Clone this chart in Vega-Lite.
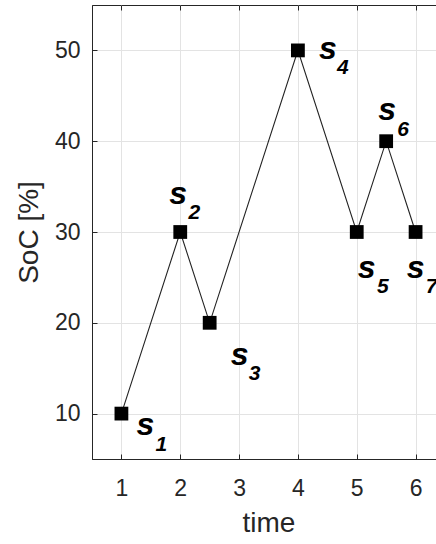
{
  "$schema": "https://vega.github.io/schema/vega-lite/v6.json",
  "autosize": {"type": "none"},
  "padding": {"left": 92, "top": 5, "right": 0, "bottom": 85},
  "width": 353,
  "height": 454,
  "background": "white",
  "config": {
    "view": {"stroke": "#262626", "strokeWidth": 1},
    "font": "Liberation Sans",
    "axis": {
      "domainColor": "#262626",
      "tickColor": "#262626",
      "labelColor": "#262626",
      "titleColor": "#262626",
      "labelFont": "Liberation Sans",
      "titleFont": "Liberation Sans",
      "labelFontSize": 23,
      "titleFontSize": 28,
      "titleFontWeight": "normal",
      "gridColor": "#e3e3e3",
      "gridWidth": 1,
      "tickSize": -5,
      "tickWidth": 1
    }
  },
  "resolve": {"axis": {"x": "independent"}},
  "data": {"values": [
    {"t": 1, "soc": 10, "lab": "s", "sub": "1"},
    {"t": 2, "soc": 30, "lab": "s", "sub": "2"},
    {"t": 2.5, "soc": 20, "lab": "s", "sub": "3"},
    {"t": 4, "soc": 50, "lab": "s", "sub": "4"},
    {"t": 5, "soc": 30, "lab": "s", "sub": "5"},
    {"t": 5.5, "soc": 40, "lab": "s", "sub": "6"},
    {"t": 6, "soc": 30, "lab": "s", "sub": "7"}
  ]},
  "encoding": {
    "x": {"field": "t", "type": "quantitative", "scale": {"domain": [0.5, 6.5], "nice": false, "zero": false}, "axis": null},
    "y": {"field": "soc", "type": "quantitative", "scale": {"domain": [5, 55], "nice": false, "zero": false}, "axis": {"orient": "left", "title": "SoC [%]", "values": [10, 20, 30, 40, 50], "grid": true, "labelPadding": 17, "titlePadding": 11}}
  },
  "layer": [
    {
      "mark": {"type": "line", "color": "#222222", "strokeWidth": 1.1},
      "encoding": {
        "x": {"field": "t", "type": "quantitative", "scale": {"domain": [0.5, 6.5], "nice": false, "zero": false}, "axis": {"orient": "bottom", "title": "time", "values": [1, 2, 3, 4, 5, 6], "grid": true, "labelPadding": 23, "titlePadding": 9}}
      }
    },
    {
      "mark": {"type": "point", "shape": "square", "filled": true, "color": "black", "size": 190, "opacity": 1},
      "encoding": {
        "x": {"field": "t", "type": "quantitative", "scale": {"domain": [0.5, 6.5], "nice": false, "zero": false}, "axis": {"orient": "top", "title": null, "values": [1, 2, 3, 4, 5, 6], "labels": false, "grid": false, "domain": false}}
      }
    },
    {"transform": [{"filter": "datum.sub == '1'"}], "mark": {"type": "text", "fontSize": 32, "fontWeight": "bold", "fontStyle": "italic", "align": "center", "baseline": "alphabetic", "dx": 24, "dy": 21}, "encoding": {"text": {"field": "lab"}}},
    {"transform": [{"filter": "datum.sub == '1'"}], "mark": {"type": "text", "fontSize": 21, "fontWeight": "bold", "fontStyle": "italic", "align": "center", "baseline": "alphabetic", "dx": 40, "dy": 37}, "encoding": {"text": {"field": "sub"}}},
    {"transform": [{"filter": "datum.sub == '2'"}], "mark": {"type": "text", "fontSize": 32, "fontWeight": "bold", "fontStyle": "italic", "align": "center", "baseline": "alphabetic", "dx": -2, "dy": -28}, "encoding": {"text": {"field": "lab"}}},
    {"transform": [{"filter": "datum.sub == '2'"}], "mark": {"type": "text", "fontSize": 21, "fontWeight": "bold", "fontStyle": "italic", "align": "center", "baseline": "alphabetic", "dx": 14, "dy": -13}, "encoding": {"text": {"field": "sub"}}},
    {"transform": [{"filter": "datum.sub == '3'"}], "mark": {"type": "text", "fontSize": 32, "fontWeight": "bold", "fontStyle": "italic", "align": "center", "baseline": "alphabetic", "dx": 30, "dy": 42}, "encoding": {"text": {"field": "lab"}}},
    {"transform": [{"filter": "datum.sub == '3'"}], "mark": {"type": "text", "fontSize": 21, "fontWeight": "bold", "fontStyle": "italic", "align": "center", "baseline": "alphabetic", "dx": 45, "dy": 57}, "encoding": {"text": {"field": "sub"}}},
    {"transform": [{"filter": "datum.sub == '4'"}], "mark": {"type": "text", "fontSize": 32, "fontWeight": "bold", "fontStyle": "italic", "align": "center", "baseline": "alphabetic", "dx": 30, "dy": 9}, "encoding": {"text": {"field": "lab"}}},
    {"transform": [{"filter": "datum.sub == '4'"}], "mark": {"type": "text", "fontSize": 21, "fontWeight": "bold", "fontStyle": "italic", "align": "center", "baseline": "alphabetic", "dx": 45, "dy": 24}, "encoding": {"text": {"field": "sub"}}},
    {"transform": [{"filter": "datum.sub == '5'"}], "mark": {"type": "text", "fontSize": 32, "fontWeight": "bold", "fontStyle": "italic", "align": "center", "baseline": "alphabetic", "dx": 10, "dy": 46}, "encoding": {"text": {"field": "lab"}}},
    {"transform": [{"filter": "datum.sub == '5'"}], "mark": {"type": "text", "fontSize": 21, "fontWeight": "bold", "fontStyle": "italic", "align": "center", "baseline": "alphabetic", "dx": 26, "dy": 61}, "encoding": {"text": {"field": "sub"}}},
    {"transform": [{"filter": "datum.sub == '6'"}], "mark": {"type": "text", "fontSize": 32, "fontWeight": "bold", "fontStyle": "italic", "align": "center", "baseline": "alphabetic", "dx": 1, "dy": -21}, "encoding": {"text": {"field": "lab"}}},
    {"transform": [{"filter": "datum.sub == '6'"}], "mark": {"type": "text", "fontSize": 21, "fontWeight": "bold", "fontStyle": "italic", "align": "center", "baseline": "alphabetic", "dx": 17, "dy": -5}, "encoding": {"text": {"field": "sub"}}},
    {"transform": [{"filter": "datum.sub == '7'"}], "mark": {"type": "text", "fontSize": 32, "fontWeight": "bold", "fontStyle": "italic", "align": "center", "baseline": "alphabetic", "dx": 0, "dy": 46}, "encoding": {"text": {"field": "lab"}}},
    {"transform": [{"filter": "datum.sub == '7'"}], "mark": {"type": "text", "fontSize": 21, "fontWeight": "bold", "fontStyle": "italic", "align": "center", "baseline": "alphabetic", "dx": 16, "dy": 61}, "encoding": {"text": {"field": "sub"}}}
  ]
}
